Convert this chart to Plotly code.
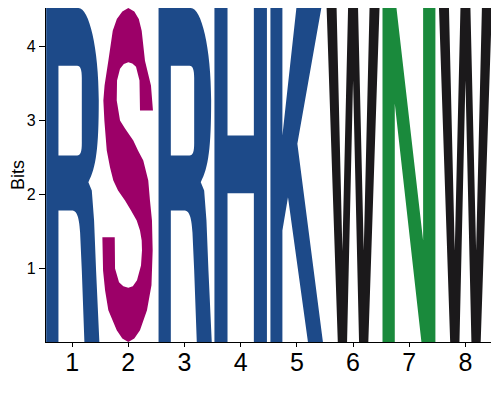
import re
import plotly.graph_objects as go

positions = [1, 2, 3, 4, 5, 6, 7, 8]
letters = ["R", "S", "R", "H", "K", "W", "N", "W"]
heights = [4.52, 4.52, 4.52, 4.52, 4.52, 4.52, 4.52, 4.52]   # bits
tick_labels = ["1", "2", "3", "4", "5", "6", "7", "8"]
y_ticks = [1, 2, 3, 4]

# ---- styling ----
letter_colors = {
    "R": "#1d4a89", "H": "#1d4a89", "K": "#1d4a89",
    "S": "#9c0068", "N": "#1a8a3c", "W": "#1b191b",
}

# Glyph templates in design units: x relative to glyph centre (DESIGN_W per
# position), y measured downwards from glyph top (DESIGN_H = full height).
DESIGN_W = 56.3
DESIGN_H = 334.4
GLYPHS = {
    "R": ("M -26.0 334.4 L -26.0 0 L 6.3 0 C 17 0 26.7 40 26.7 92.7 "
          "C 26.7 140 24 160 16.3 174.4 L 19.7 182.7 L 22 212.7 L 24 262.7 "
          "L 27.3 334.4 L 12.3 334.4 L 9.7 262.7 L 8 225 C 7 207 4 202.7 -0.3 202.7 "
          "L -13.7 202.7 L -13.7 334.4 Z "
          "M -13.7 57.7 L 5 57.7 C 8.5 57.7 9.7 62 9.7 70 L 9.7 135 "
          "C 9.7 144 8.5 147.7 5 147.7 L -13.7 147.7 Z"),
    "S": ("M 11.7 102.7 L 24.7 102.7 L 22.7 77.7 L 16.7 52.7 L 13.4 22.7 L 10.5 11 "
          "L 6 3.5 L 0 0 L -6 3.5 L -11.5 11 L -15.6 22.7 L -20 52.7 L -23.8 77.7 "
          "L -25 92.7 L -24 112.7 L -21.6 142.7 L -18.3 159.7 L -15 172.7 L -10.3 182.7 "
          "L -3.3 192.7 L 2.7 202.7 L 8.4 212.7 L 11.7 222.7 L 13.4 232.7 L 13.7 242.7 "
          "L 12.7 257.7 L 8.7 272.7 L 4.5 278.5 L 0 280 L -5 278.5 L -9.3 274.7 "
          "L -13.3 260.7 L -13.6 229.4 L -26 229.4 L -25.3 262.7 L -23.3 282.7 "
          "L -20 302.7 L -11.6 322.7 L -6 330.9 L 0 334.4 L 6 330.9 L 11.7 322.7 "
          "L 18.7 302.7 L 23.2 277.7 L 24.4 242.7 L 23.7 212.7 L 21.7 192.7 L 20 172.7 "
          "L 15 152.7 L 9.7 142.7 L 5 132.7 L -3.3 120.7 L -8.3 112.7 L -11.6 92.7 "
          "L -11.3 72.7 L -8.3 60.7 L -4.5 56 L 0 54.4 L 4 55.5 L 7.7 58.7 L 11.2 72.7 Z"),
    "H": ("M -26.3 334.4 L -26.3 0 L -13.2 0 L -13.2 127.7 L 13.2 127.7 L 13.2 0 "
          "L 26.3 0 L 26.3 334.4 L 13.2 334.4 L 13.2 185.4 L -13.2 185.4 L -13.2 334.4 Z"),
    "K": ("M -26.5 334.4 L -26.5 0 L -14.5 0 L -14.5 127.7 L -0.5 0 L 24.5 0 "
          "L 0.5 136 L 26.1 334.4 L 11.1 334.4 L -8.9 189.4 L -14.5 222.7 L -14.5 334.4 Z"),
    "W": ("M -26.5 0 L -16.5 0 L -10.7 243 L -5 0 L 5 0 L 10.7 243 L 16.5 0 L 26.5 0 "
          "L 15.3 334.4 L 6 334.4 L 0 72.7 L -6 334.4 L -15.3 334.4 Z"),
    "N": ("M -26.8 334.4 L -26.8 0 L -12.8 0 L 13.9 232.7 L 13.9 0 L 26.2 0 "
          "L 26.2 334.4 L 12.2 334.4 L -14.5 95.7 L -14.5 334.4 Z"),
}


def glyph_path(letter, pos, height):
    """Scale a glyph template into data coordinates for one logo column."""
    tokens = re.findall(r"[MLCZ]|-?\d+(?:\.\d+)?", GLYPHS[letter])
    out, nums = [], []
    for t in tokens:
        if t in "MLCZ":
            out.append(t)
        else:
            nums.append(float(t))
            if len(nums) == 2:
                gx, gy = nums
                x = pos + gx / DESIGN_W
                y = height * (1.0 - gy / DESIGN_H)
                out.append(f"{x:.5f},{y:.5f}")
                nums = []
    return " ".join(out)


shapes = []
for pos, let, h in zip(positions, letters, heights):
    shapes.append(dict(
        type="path", xref="x", yref="y", path=glyph_path(let, pos, h),
        fillcolor=letter_colors[let], line=dict(width=0), layer="above",
        fillrule="evenodd",
    ))

fig = go.Figure()
fig.add_trace(go.Scatter(
    x=positions, y=heights, mode="markers", marker=dict(opacity=0),
    text=letters, hoverinfo="text", showlegend=False,
))

# The page body adds an 8 px margin, so the figure is 484x384 and offset.
font_family = "Liberation Sans, Arial, sans-serif"
fig.update_layout(
    width=484, height=384,
    margin=dict(l=37.7, r=0.5, t=0, b=50.3, pad=0, autoexpand=False),
    paper_bgcolor="white", plot_bgcolor="white",
    shapes=shapes,
    font=dict(family=font_family, color="black"),
    xaxis=dict(
        range=[0.535, 8.455], tickmode="array", tickvals=positions, ticktext=tick_labels,
        showline=True, linecolor="black", linewidth=1.3, ticks="outside", ticklen=4,
        tickcolor="black", tickwidth=1, tickfont=dict(size=25, family=font_family),
        ticklabelstandoff=-6,
        showgrid=False, zeroline=False, automargin=False,
    ),
    yaxis=dict(
        range=[0, 4.52], tickmode="array", tickvals=y_ticks,
        showline=True, linecolor="black", linewidth=1.3, ticks="outside", ticklen=6,
        tickcolor="black", tickwidth=1, tickfont=dict(size=16, family=font_family),
        title=dict(text="Bits", font=dict(size=18, family=font_family), standoff=5),
        showgrid=False, zeroline=False, automargin=False,
    ),
)

fig.write_html("out.html")
